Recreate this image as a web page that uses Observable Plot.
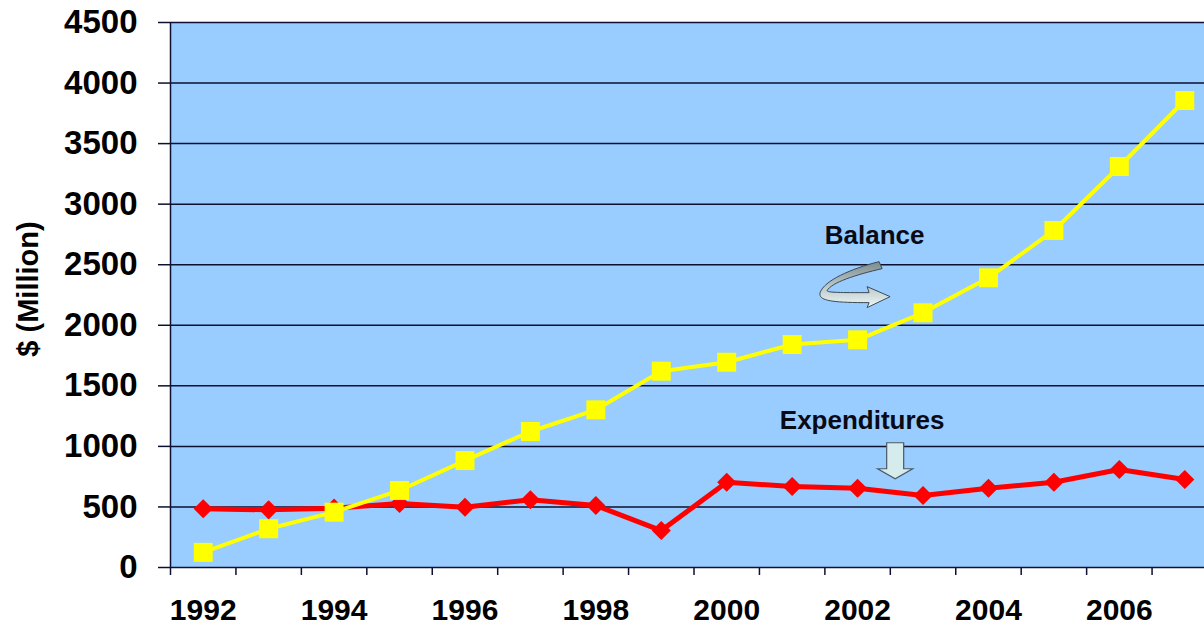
<!DOCTYPE html>
<html>
<head>
<meta charset="utf-8">
<script src="https://cdn.jsdelivr.net/npm/d3@7"></script>
<script src="https://cdn.jsdelivr.net/npm/@observablehq/plot@0.6"></script>
<style>
  html, body { margin: 0; padding: 0; background: white; overflow: hidden; }
</style>
</head>
<body>
<div id="chart"></div>
<script>
// ---- Data ----
const years = [1992, 1993, 1994, 1995, 1996, 1997, 1998, 1999, 2000, 2001, 2002, 2003, 2004, 2005, 2006, 2007];
const balance = [125, 320, 457, 636, 883, 1123, 1302, 1621, 1695, 1841, 1880, 2103, 2392, 2783, 3311, 3856];
const expenditures = [485, 476, 490, 528, 498, 559, 512, 305, 704, 669, 655, 594, 655, 704, 809, 727];
const yTicks = [0, 500, 1000, 1500, 2000, 2500, 3000, 3500, 4000, 4500];
const xLabelYears = [1992, 1994, 1996, 1998, 2000, 2002, 2004, 2006];
const yLabel = "$ (Million)";
const annotations = [
  {label: "Balance", year: 2002.26, value: 2736},
  {label: "Expenditures", year: 2002.07, value: 1216}
];

const data = years.map((year, i) => ({year, balance: balance[i], expenditures: expenditures[i]}));
const boundaries = years.map(y => y - 0.5);

const ink = "#0d1030";

const plot = Plot.plot({
  width: 1204,
  height: 625,
  marginLeft: 170,
  marginTop: 22,
  marginBottom: 58,
  marginRight: -13,
  style: {
    fontFamily: "'Liberation Sans', Arial, Helvetica, sans-serif",
    fontWeight: "bold",
    color: "black",
    background: "white",
    overflow: "visible"
  },
  x: {type: "linear", domain: [1991.5, 2007.5]},
  y: {domain: [0, 4500]},
  marks: [
    Plot.frame({fill: "#99CCFF", stroke: "none"}),
    Plot.ruleY(yTicks, {stroke: ink, strokeWidth: 1.5}),
    Plot.ruleX([1991.5], {stroke: ink, strokeWidth: 1.5}),
    Plot.axisY({ticks: yTicks, tickSize: 12, tickPadding: 21, fontSize: 33, tickFormat: d => String(d), stroke: ink, strokeWidth: 1.5, label: null}),
    Plot.axisX({ticks: boundaries, tickSize: 8, tickFormat: () => "", stroke: ink, strokeWidth: 1.5, label: null}),
    Plot.axisX({ticks: xLabelYears, tickSize: 0, tickPadding: 31, fontSize: 30, tickFormat: d => String(d), label: null}),
    Plot.line(data, {x: "year", y: "expenditures", stroke: "#FF0000", strokeWidth: 5}),
    Plot.dot(data, {x: "year", y: "expenditures", symbol: "diamond2", r: 8.6, fill: "#FF0000", stroke: "none"}),
    Plot.line(data, {x: "year", y: "balance", stroke: "#FFFF00", strokeWidth: 4}),
    Plot.dot(data, {x: "year", y: "balance", symbol: "square", r: 10.7, fill: "#FFFF00", stroke: "none"}),
    Plot.text(annotations, {x: "year", y: "value", text: "label", fontSize: 26, fill: "#0a0a14"}),
    Plot.text([yLabel], {frameAnchor: "left", textAnchor: "middle", rotate: -90, dx: -142, dy: -6, fontSize: 29, fill: "black"})
  ]
});

document.getElementById("chart").appendChild(plot);

// ---- Decorative arrows anchored to the annotation labels ----
const sx = plot.scale("x"), sy = plot.scale("y");
const svg = d3.select(plot);
const defs = svg.append("defs");
const grad = defs.append("linearGradient").attr("id", "curveGrad").attr("x1", 0).attr("y1", 0).attr("x2", 0).attr("y2", 1);
grad.append("stop").attr("offset", "0").attr("stop-color", "#7d8a8c");
grad.append("stop").attr("offset", "0.5").attr("stop-color", "#b8c4c4");
grad.append("stop").attr("offset", "1").attr("stop-color", "#eef8f8");

const bal = annotations[0], exp = annotations[1];
svg.append("path")
  .attr("transform", `translate(${sx.apply(bal.year)},${sy.apply(bal.value)})`)
  .attr("d", "M5,26 C-23,33 -50,45 -54,57 C-56,65 -43,67 -5,67 L-7,72 L16,61 L-7,51 L-5,57 C-33,57 -47,57 -47,55 C-43,47 -18,39 8,33 Z")
  .attr("fill", "url(#curveGrad)")
  .attr("stroke", "#3c4a56")
  .attr("stroke-width", 1);

svg.append("path")
  .attr("transform", `translate(${sx.apply(exp.year)},${sy.apply(exp.value)})`)
  .attr("d", "M25,23 L42,23 L42,49 L51,49 L33.5,59 L16,49 L25,49 Z")
  .attr("fill", "#d6ecec")
  .attr("stroke", "#4a5a66")
  .attr("stroke-width", 1.2);
</script>
</body>
</html>
